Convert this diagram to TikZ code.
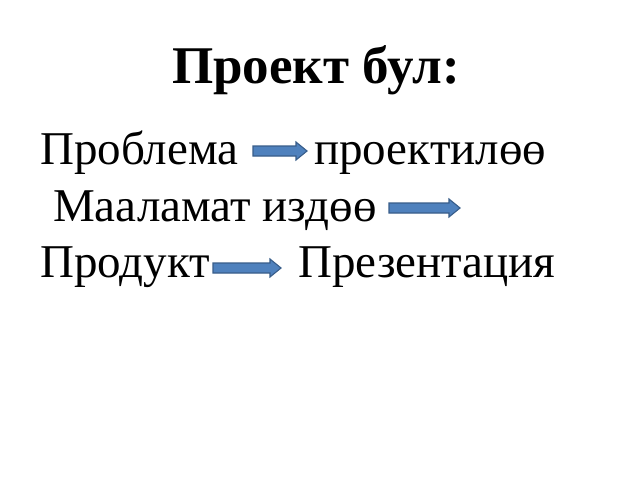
\documentclass[tikz,border=0pt]{standalone}
\usepackage{fontspec}
\setmainfont{Liberation Serif}
\definecolor{arrfill}{HTML}{4F81BD}
\definecolor{arrline}{HTML}{385D8A}
\tikzset{
  bodytext/.style={anchor=base west, inner sep=0pt, font=\fontsize{47}{56}\selectfont},
  titletext/.style={anchor=base, inner sep=0pt, font=\fontsize{53}{62}\selectfont\bfseries},
  blockarr/.style={fill=arrfill, draw=arrline, line width=1.1pt, line join=miter}
}
\newcommand{\myblockarrow}[3]{% x1, x2, ycenter
  \draw[blockarr] (#1,#3-5) -- (#2-11,#3-5) -- (#2-11,#3-9) -- (#2,#3) -- (#2-11,#3+9) -- (#2-11,#3+5) -- (#1,#3+5) -- cycle;
}
\begin{document}
\begin{tikzpicture}[x=1pt,y=-1pt]
\useasboundingbox (0,0) rectangle (640,480);
\fill[white] (0,0) rectangle (640,480);
\node[titletext] (title) at (316,83) {Проект бул:};
\node[bodytext] (l1a) at (40,164) {Проблема};
\node[bodytext] (l1b) at (314,164) {проектилөө};
\node[bodytext] (l2a) at (53,221) {Мааламат издөө};
\node[bodytext] (l3a) at (40,277) {Продукт};
\node[bodytext] (l3b) at (298,277) {Презентация};
\myblockarrow{253}{307}{151}
\myblockarrow{389}{460}{208}
\myblockarrow{213}{281}{268}
\end{tikzpicture}
\end{document}
